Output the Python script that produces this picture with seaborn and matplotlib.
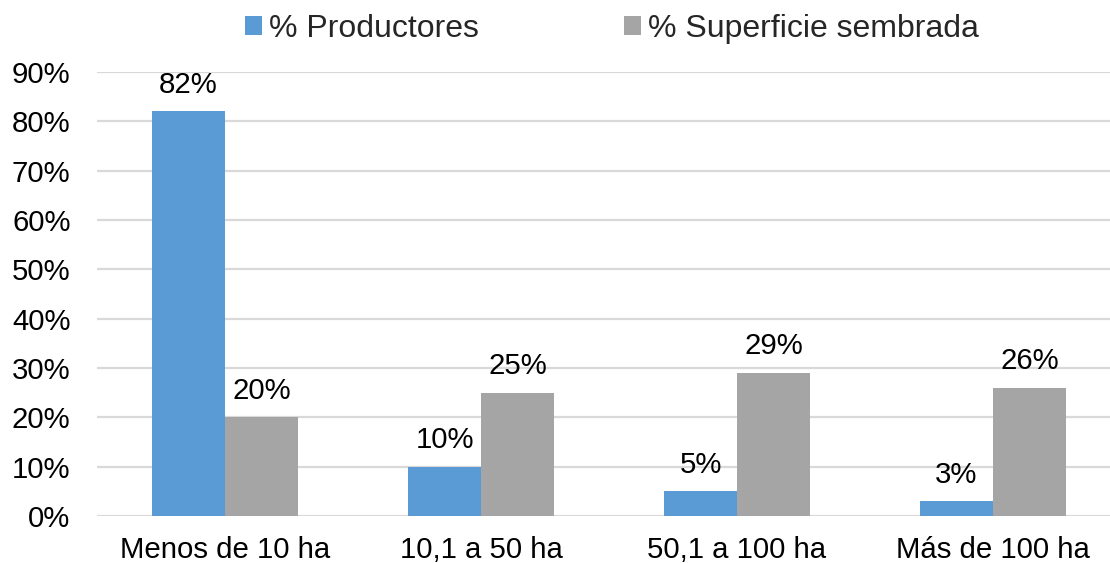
import matplotlib
matplotlib.use("Agg")
import matplotlib.pyplot as plt
import seaborn as sns
import pandas as pd
from matplotlib.ticker import FuncFormatter
from matplotlib.patches import Patch

categories = ["Menos de 10 ha", "10,1 a 50 ha", "50,1 a 100 ha", "Más de 100 ha"]
series_names = ["% Productores", "% Superficie sembrada"]
productores = [0.82, 0.10, 0.05, 0.03]
superficie = [0.20, 0.25, 0.29, 0.26]
colors = ["#5B9BD5", "#A5A5A5"]

df = pd.DataFrame({
    "cat": categories * 2,
    "serie": [series_names[0]] * 4 + [series_names[1]] * 4,
    "val": productores + superficie,
})

sns.set_theme(style="white")
plt.rcParams["font.family"] = ["Liberation Sans", "DejaVu Sans"]

FS = 21.2
LFS = 23

fig = plt.figure(figsize=(11.10, 5.63), dpi=100)
ax = fig.add_axes([97/1110, 1 - 516/563, 1013/1110, (516 - 72)/563])

sns.barplot(data=df, x="cat", y="val", hue="serie", palette=colors,
            width=0.57, gap=0, saturation=1, ax=ax, legend=False)

ax.set_xlim(-0.5, -0.5 + 1013/256)
ax.set_ylim(0, 0.9)
ax.set_yticks([i / 10 for i in range(10)])
ax.yaxis.set_major_formatter(FuncFormatter(lambda v, p: f"{round(v*100)}%"))
ax.grid(axis="y", color="#D9D9D9", linewidth=1.6)
ax.set_axisbelow(True)
for s in ax.spines.values():
    s.set_visible(False)
ax.tick_params(axis="both", length=0, labelsize=FS, colors="black")
ax.tick_params(axis="y", pad=19)
ax.tick_params(axis="x", pad=14.5)
ax.set_xlabel("")
ax.set_ylabel("")

for cont, vals in zip(ax.containers, [productores, superficie]):
    for b in cont:
        b.set_edgecolor("none")
    ax.bar_label(cont, labels=[f"{round(v*100)}%" for v in vals],
                 padding=9, fontsize=FS, color="black")

handles = [Patch(facecolor=c, edgecolor="none") for c in colors]
fig.legend(handles, series_names, loc="center", bbox_to_anchor=(612/1110, 1 - 29/563),
           ncol=2, frameon=False, fontsize=LFS, handlelength=0.53, handleheight=0.53,
           handletextpad=0.22, columnspacing=4.55, borderpad=0)

fig.savefig("out.png", dpi=100)
